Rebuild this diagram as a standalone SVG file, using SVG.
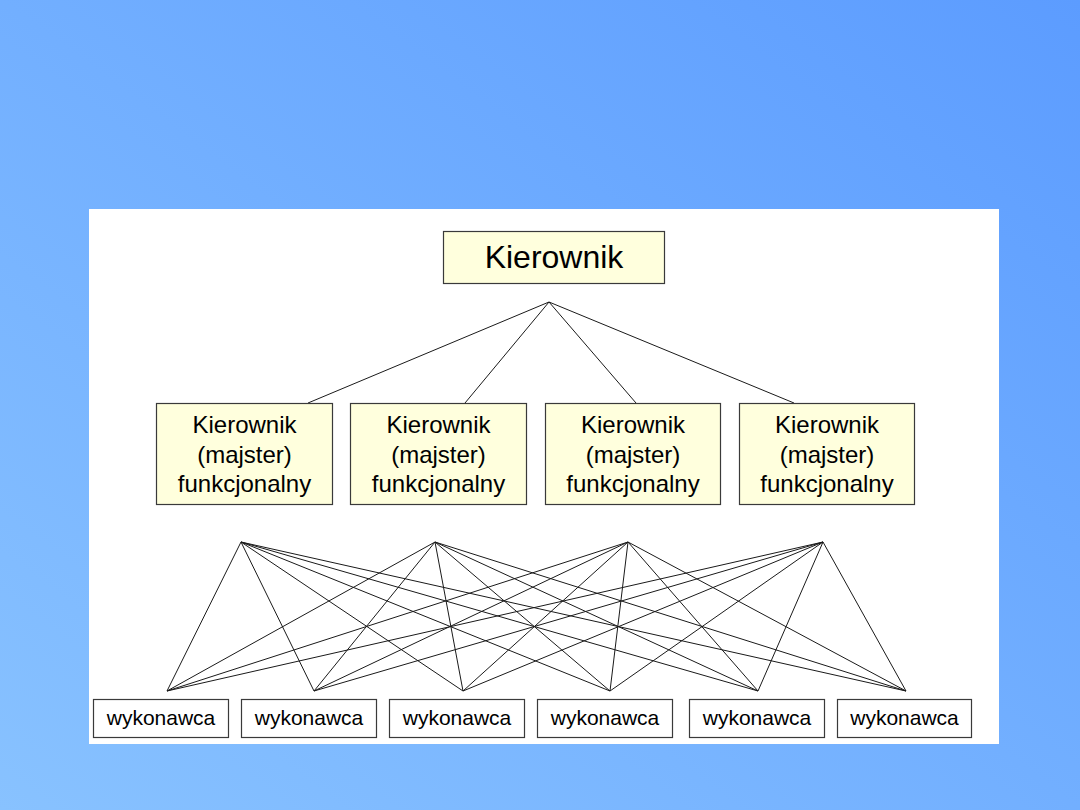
<svg xmlns="http://www.w3.org/2000/svg" width="1080" height="810" viewBox="0 0 1080 810">
<defs>
<linearGradient id="bg" x1="0" y1="1" x2="1" y2="0">
<stop offset="0" stop-color="#88c2ff"/>
<stop offset="1" stop-color="#5c9cff"/>
</linearGradient>
<style>
.box{fill:#ffffdd;stroke:#3a3a3a;stroke-width:1.2}
.wbox{fill:#ffffff;stroke:#3a3a3a;stroke-width:1.2}
.t{font-family:"Liberation Sans",Arial,sans-serif;fill:#000;text-anchor:middle}
.m{font-size:24px}
.w{font-size:21px}
.conn line{stroke:#1a1a1a;stroke-width:1;fill:none}
</style>
</defs>
<rect x="0" y="0" width="1080" height="810" fill="url(#bg)"/>
<rect x="89" y="209" width="910" height="535" fill="#ffffff"/>
<g id="connectors" class="conn">
<line x1="549" y1="302" x2="308" y2="403"/>
<line x1="549" y1="302" x2="465" y2="403"/>
<line x1="549" y1="302" x2="636" y2="403"/>
<line x1="549" y1="302" x2="794" y2="403"/>
<g id="c1">
<line x1="241" y1="542" x2="167" y2="691"/><line x1="241" y1="542" x2="314" y2="691"/><line x1="241" y1="542" x2="463" y2="691"/><line x1="241" y1="542" x2="610" y2="691"/><line x1="241" y1="542" x2="758" y2="691"/><line x1="241" y1="542" x2="906" y2="691"/>
</g>
<g id="c2">
<line x1="435" y1="542" x2="167" y2="691"/><line x1="435" y1="542" x2="314" y2="691"/><line x1="435" y1="542" x2="463" y2="691"/><line x1="435" y1="542" x2="610" y2="691"/><line x1="435" y1="542" x2="758" y2="691"/><line x1="435" y1="542" x2="906" y2="691"/>
</g>
<g id="c3">
<line x1="628" y1="542" x2="167" y2="691"/><line x1="628" y1="542" x2="314" y2="691"/><line x1="628" y1="542" x2="463" y2="691"/><line x1="628" y1="542" x2="610" y2="691"/><line x1="628" y1="542" x2="758" y2="691"/><line x1="628" y1="542" x2="906" y2="691"/>
</g>
<g id="c4">
<line x1="823" y1="542" x2="167" y2="691"/><line x1="823" y1="542" x2="314" y2="691"/><line x1="823" y1="542" x2="463" y2="691"/><line x1="823" y1="542" x2="610" y2="691"/><line x1="823" y1="542" x2="758" y2="691"/><line x1="823" y1="542" x2="906" y2="691"/>
</g>
</g>
<g id="kierownik">
<rect class="box" x="443.5" y="231.5" width="221" height="52"/>
<text class="t" x="554" y="268" font-size="32">Kierownik</text>
</g>
<g id="majster1">
<rect class="box" x="156.5" y="403.5" width="176" height="101"/>
<text class="t m" x="244.5" y="433">Kierownik</text>
<text class="t m" x="244.5" y="463">(majster)</text>
<text class="t m" x="244.5" y="492">funkcjonalny</text>
</g>
<g id="majster2">
<rect class="box" x="350.5" y="403.5" width="176" height="101"/>
<text class="t m" x="438.5" y="433">Kierownik</text>
<text class="t m" x="438.5" y="463">(majster)</text>
<text class="t m" x="438.5" y="492">funkcjonalny</text>
</g>
<g id="majster3">
<rect class="box" x="545.5" y="403.5" width="175" height="101"/>
<text class="t m" x="633" y="433">Kierownik</text>
<text class="t m" x="633" y="463">(majster)</text>
<text class="t m" x="633" y="492">funkcjonalny</text>
</g>
<g id="majster4">
<rect class="box" x="739.5" y="403.5" width="175" height="101"/>
<text class="t m" x="827" y="433">Kierownik</text>
<text class="t m" x="827" y="463">(majster)</text>
<text class="t m" x="827" y="492">funkcjonalny</text>
</g>
<g id="wykonawca1">
<rect class="wbox" x="93.5" y="699.5" width="135" height="38"/>
<text class="t w" x="161" y="725">wykonawca</text>
</g>
<g id="wykonawca2">
<rect class="wbox" x="241.5" y="699.5" width="135" height="38"/>
<text class="t w" x="309" y="725">wykonawca</text>
</g>
<g id="wykonawca3">
<rect class="wbox" x="389.5" y="699.5" width="135" height="38"/>
<text class="t w" x="457" y="725">wykonawca</text>
</g>
<g id="wykonawca4">
<rect class="wbox" x="537.5" y="699.5" width="135" height="38"/>
<text class="t w" x="605" y="725">wykonawca</text>
</g>
<g id="wykonawca5">
<rect class="wbox" x="689.5" y="699.5" width="135" height="38"/>
<text class="t w" x="757" y="725">wykonawca</text>
</g>
<g id="wykonawca6">
<rect class="wbox" x="837.5" y="699.5" width="134" height="38"/>
<text class="t w" x="904.5" y="725">wykonawca</text>
</g>
</svg>
